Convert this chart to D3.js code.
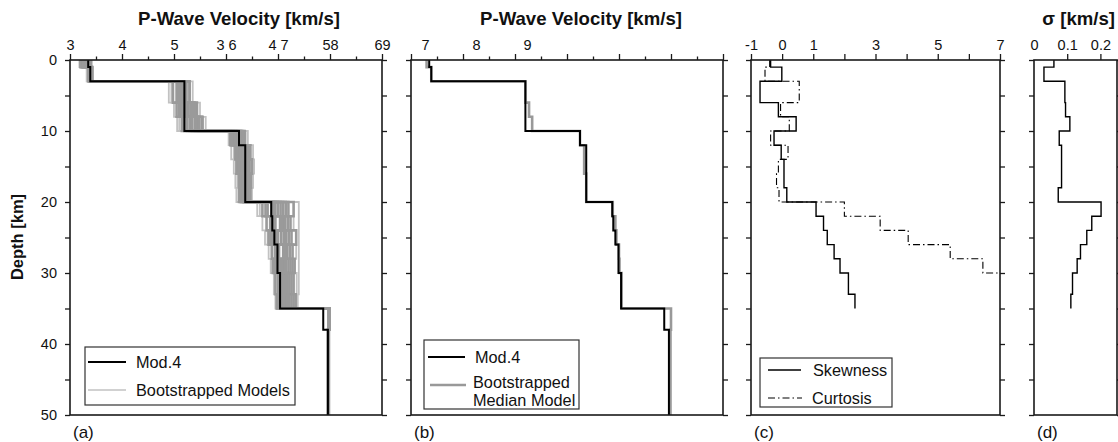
<!DOCTYPE html>
<html><head><meta charset="utf-8">
<script src="https://cdn.jsdelivr.net/npm/d3@7"></script>
<style>
body{margin:0;background:#fff;}
svg{display:block;font-family:"Liberation Sans",Arial,Helvetica,sans-serif;}
</style></head><body>
<svg id="chart" width="1118" height="442"></svg>
<script>
// ---------- DATA ----------
// layer tops/bottoms (km); value i holds for depthBounds[i]..depthBounds[i+1]
const depthBounds = [0,1,3,6,8,10,12,14,16,18,20,22,24,26,28,30,33,35,38,50];
const depthTicks = [0,5,10,15,20,25,30,35,40,45,50];
const depthLabels = [0,10,20,30,40,50];

const velMajorTicks = [3,4,5,6,7,8,9];
const velMinorTicks = [3.5,4.5,5.5,6.5,7.5,8.5];
const velTickLabelsA = ["3","4","5","3 6","4 7","58","69"];
const velTickLabelsB = ["7","8","9"];
const velTickLabelsBAt = [3.27,4.25,5.23];

const statTicks = [-1,0,1,2,3,4,5,6,7];
const statTickLabels = ["-1","0","1","","3","","5","","7"];
const sigmaTicks = [0.1,0.2];
const sigmaLabelValues = [0,0.1,0.2];
const sigmaTickLabels = ["0","0.1","0.2"];

const mod4         = [3.35,3.39,5.20,5.20,5.20,6.25,6.37,6.37,6.37,6.37,6.87,6.89,6.93,6.99,6.99,7.04,7.04,7.87,7.96];
const medianModel  = [3.30,3.39,5.20,5.27,5.33,6.25,6.33,6.33,6.37,6.37,6.88,6.93,6.95,7.00,7.01,7.05,7.05,8.00,7.99];

const boot1  = [3.18,3.33,4.90,5.00,5.06,6.05,6.10,6.15,6.18,6.20,6.60,6.70,6.75,6.82,6.86,6.92,6.95,7.97,7.96];
const boot2  = [3.22,3.36,4.98,5.10,5.15,6.10,6.18,6.22,6.25,6.25,6.70,6.78,6.82,6.88,6.90,6.95,6.98,7.98,7.97];
const boot3  = [3.26,3.38,5.05,5.18,5.25,6.15,6.24,6.28,6.30,6.30,6.80,6.85,6.90,6.94,6.96,7.00,7.02,7.99,7.97];
const boot4  = [3.30,3.40,5.12,5.25,5.33,6.20,6.30,6.34,6.35,6.35,6.92,6.95,6.98,7.02,7.04,7.06,7.08,7.98,7.96];
const boot5  = [3.34,3.41,5.18,5.32,5.40,6.25,6.36,6.40,6.40,6.40,7.00,7.04,7.06,7.10,7.12,7.14,7.15,7.99,7.97];
const boot6  = [3.38,3.42,5.24,5.38,5.46,6.30,6.42,6.45,6.44,6.43,7.10,7.14,7.16,7.18,7.20,7.22,7.22,7.98,7.97];
const boot7  = [3.40,3.43,5.30,5.44,5.53,6.36,6.47,6.50,6.48,6.47,7.20,7.24,7.26,7.28,7.28,7.30,7.30,7.99,7.98];
const boot8  = [3.42,3.44,5.36,5.50,5.61,6.42,6.52,6.54,6.52,6.50,7.40,7.40,7.40,7.40,7.40,7.40,7.38,8.00,7.98];
const boot9  = [3.20,3.35,5.30,5.05,5.55,6.08,6.45,6.20,6.42,6.28,7.30,6.90,7.35,6.98,7.32,7.10,7.34,7.98,7.96];
const boot10 = [3.28,3.32,4.95,5.45,5.10,6.38,6.15,6.48,6.22,6.45,6.65,7.30,6.80,7.35,6.95,7.36,7.00,7.97,7.97];
const boot11 = [3.36,3.39,5.20,5.22,5.35,6.22,6.33,6.36,6.36,6.37,6.88,6.92,6.95,7.00,7.00,7.05,7.05,7.98,7.97];
const boot12 = [3.24,3.37,5.08,5.35,5.20,6.12,6.38,6.25,6.46,6.33,6.95,7.10,7.00,7.15,7.08,7.18,7.12,7.99,7.97];
const boot13 = [3.32,3.40,5.15,5.28,5.42,6.18,6.27,6.31,6.33,6.34,6.76,6.88,6.86,6.96,6.93,7.02,6.98,7.98,7.97];
const boot14 = [3.37,3.41,5.10,5.40,5.30,6.28,6.40,6.42,6.38,6.41,7.05,7.08,7.11,7.14,7.15,7.18,7.19,7.99,7.97];
const boot15 = [3.25,3.37,5.22,5.14,5.48,6.33,6.21,6.38,6.28,6.39,7.15,7.19,7.21,7.23,7.24,7.26,7.26,7.98,7.97];
const bootLight = [boot1, boot8, boot10];
const bootDark  = [boot2, boot3, boot4, boot5, boot6, boot7, boot9, boot11, boot12, boot13, boot14, boot15];

const skewness = [-0.37,-0.01,-0.71,-0.12,0.45,-0.26,-0.03,0.06,0.06,0.15,1.09,1.33,1.45,1.67,1.86,2.13,2.34,null,null];
const curtosis = [-0.40,-0.55,0.55,-0.05,0.23,-0.37,0.19,-0.12,-0.18,-0.10,2.00,3.15,4.05,5.40,6.45,8.00,8.00,null,null];
const sigma    = [0.060,0.030,0.093,0.095,0.108,0.076,0.083,0.083,0.083,0.073,0.202,0.174,0.159,0.140,0.130,0.116,0.111,null,null];

// ---------- SETUP ----------
const svg = d3.select("#chart");
const y = d3.scaleLinear().domain([0,50]).range([60,415]);
const xA = d3.scaleLinear().domain([3,9]).range([70,382]);
const xB = d3.scaleLinear().domain([3,9]).range([411,723]);
const xC = d3.scaleLinear().domain([-1,7]).range([751,1000]);
const xD = d3.scaleLinear().domain([0,0.25]).range([1034,1117]);
const INK = "#1a1a1a";

function profile(vals){
  const pts = []; let last = -1;
  vals.forEach((v,i)=>{ if(v!=null){ pts.push([v,depthBounds[i]]); last=i; } });
  pts.push([vals[last], depthBounds[last+1]]);
  return pts;
}
function lineFor(x){
  return d3.line().x(d=>x(d[0])).y(d=>y(d[1])).curve(d3.curveStepBefore);
}
function styleAxis(g){
  g.select(".domain").remove();
  g.selectAll(".tick line").attr("stroke",INK).attr("stroke-width",1.3);
  g.selectAll(".tick text").attr("fill","#111").style("font-size","14.5px")
    .style("font-family",'"Liberation Sans",Arial,Helvetica,sans-serif');
}
function frame(x, showDepthLabels){
  const [x0,x1] = x.range();
  const g = svg.append("g");
  g.append("g").attr("transform",`translate(${x0},0)`)
    .call(d3.axisLeft(y).tickValues(depthTicks).tickSize(5).tickSizeOuter(0).tickPadding(8)
      .tickFormat(d=> showDepthLabels && depthLabels.includes(d) ? d : ""))
    .call(styleAxis);
  g.append("g").attr("transform",`translate(${x1},0)`)
    .call(d3.axisRight(y).tickValues(depthTicks).tickSize(5).tickSizeOuter(0).tickFormat(""))
    .call(styleAxis);
  return g;
}
function box(x){
  const [x0,x1] = x.range();
  svg.append("rect").attr("x",x0).attr("y",y(0)).attr("width",x1-x0).attr("height",y(50)-y(0))
    .attr("fill","none").attr("stroke",INK).attr("stroke-width",1.6);
}
function clipFor(id, x){
  const [x0,x1] = x.range();
  svg.append("clipPath").attr("id",id).append("rect")
    .attr("x",x0).attr("y",y(0)).attr("width",x1-x0).attr("height",y(50)-y(0));
}

// ---------- PANEL A ----------
frame(xA, true);
svg.append("g").attr("transform",`translate(0,${y(0)})`)
  .call(d3.axisTop(xA).tickValues(velMajorTicks).tickSize(6).tickSizeOuter(0).tickPadding(4)
    .tickFormat((d,i)=>velTickLabelsA[i])).call(styleAxis);
svg.append("g").attr("transform",`translate(0,${y(0)})`)
  .call(d3.axisTop(xA).tickValues(velMinorTicks).tickSize(3.5).tickSizeOuter(0).tickFormat("")).call(styleAxis);
clipFor("clipA", xA);
const gA = svg.append("g").attr("clip-path","url(#clipA)");
bootLight.forEach(m=>gA.append("path").attr("d",lineFor(xA)(profile(m))).attr("fill","none")
  .attr("stroke","#c2c2c2").attr("stroke-width",1.8));
bootDark.forEach(m=>gA.append("path").attr("d",lineFor(xA)(profile(m))).attr("fill","none")
  .attr("stroke","#9a9a9a").attr("stroke-width",2.6));
gA.append("path").attr("d",lineFor(xA)(profile(mod4))).attr("fill","none")
  .attr("stroke","#000").attr("stroke-width",2);
box(xA);

// ---------- PANEL B ----------
frame(xB, false);
svg.append("g").attr("transform",`translate(0,${y(0)})`)
  .call(d3.axisTop(xB).tickValues(velMajorTicks).tickSize(6).tickSizeOuter(0).tickFormat("")).call(styleAxis);
svg.append("g").attr("transform",`translate(0,${y(0)})`)
  .call(d3.axisTop(xB).tickValues(velMinorTicks).tickSize(3.5).tickSizeOuter(0).tickFormat("")).call(styleAxis);
svg.append("g").attr("transform",`translate(0,${y(0)})`)
  .call(d3.axisTop(xB).tickValues(velTickLabelsBAt).tickSize(0).tickSizeOuter(0).tickPadding(10)
    .tickFormat((d,i)=>velTickLabelsB[i])).call(styleAxis);
clipFor("clipB", xB);
const gB = svg.append("g").attr("clip-path","url(#clipB)");
gB.append("path").attr("d",lineFor(xB)(profile(medianModel))).attr("fill","none")
  .attr("stroke","#999").attr("stroke-width",2.6);
gB.append("path").attr("d",lineFor(xB)(profile(mod4))).attr("fill","none")
  .attr("stroke","#000").attr("stroke-width",2);
box(xB);

// ---------- PANEL C ----------
frame(xC, false);
svg.append("g").attr("transform",`translate(0,${y(0)})`)
  .call(d3.axisTop(xC).tickValues(statTicks).tickSize(6).tickSizeOuter(0).tickPadding(4)
    .tickFormat((d,i)=>statTickLabels[i])).call(styleAxis);
clipFor("clipC", xC);
const gC = svg.append("g").attr("clip-path","url(#clipC)");
gC.append("path").attr("d",lineFor(xC)(profile(curtosis))).attr("fill","none")
  .attr("stroke","#000").attr("stroke-width",1.1).attr("stroke-dasharray","7,3,1.5,3");
gC.append("path").attr("d",lineFor(xC)(profile(skewness))).attr("fill","none")
  .attr("stroke","#000").attr("stroke-width",1.4);
box(xC);

// ---------- PANEL D ----------
frame(xD, false);
svg.append("g").attr("transform",`translate(0,${y(0)})`)
  .call(d3.axisTop(xD).tickValues(sigmaTicks).tickSize(6).tickSizeOuter(0).tickFormat("")).call(styleAxis);
svg.append("g").attr("transform",`translate(0,${y(0)})`)
  .call(d3.axisTop(xD).tickValues(sigmaLabelValues).tickSize(0).tickSizeOuter(0).tickPadding(10)
    .tickFormat((d,i)=>sigmaTickLabels[i])).call(styleAxis);
clipFor("clipD", xD);
svg.append("g").attr("clip-path","url(#clipD)").append("path")
  .attr("d",lineFor(xD)(profile(sigma))).attr("fill","none").attr("stroke","#000").attr("stroke-width",1.4);
box(xD);

// ---------- TITLES ----------
const title = (txt,x,anchor)=>svg.append("text").attr("x",x).attr("y",25).attr("text-anchor",anchor)
  .style("font-weight","bold").style("font-size","18.6px").attr("fill","#111").text(txt);
title("P-Wave Velocity [km/s]", 239, "middle");
title("P-Wave Velocity [km/s]", 581, "middle");
title("σ [km/s]", 1115, "end");
svg.append("text").attr("transform","translate(23,237) rotate(-90)").attr("text-anchor","middle")
  .style("font-weight","bold").style("font-size","16.5px").attr("fill","#111").text("Depth [km]");
[["(a)",xA],["(b)",xB],["(c)",xC],["(d)",xD]].forEach(([t,x])=>{
  svg.append("text").attr("x",x.range()[0]+3).attr("y",438).style("font-size","17px").attr("fill","#111").text(t);
});

// ---------- LEGENDS ----------
function legend(x0,y0,w,h){
  svg.append("rect").attr("x",x0).attr("y",y0).attr("width",w).attr("height",h)
    .attr("fill","#fff").attr("stroke","#333").attr("stroke-width",1.2);
}
function legText(x,yy,t){
  svg.append("text").attr("x",x).attr("y",yy).attr("dy","0.35em").style("font-size","16.3px").attr("fill","#111").text(t);
}
// (a)
legend(85,347,210,58);
svg.append("line").attr("x1",88).attr("x2",126).attr("y1",362).attr("y2",362).attr("stroke","#000").attr("stroke-width",2);
svg.append("line").attr("x1",88).attr("x2",126).attr("y1",390).attr("y2",390).attr("stroke","#c2c2c2").attr("stroke-width",1.6);
legText(136,362,"Mod.4");
legText(136,390,"Bootstrapped Models");
// (b)
legend(424,340,155,69);
svg.append("line").attr("x1",428).attr("x2",465).attr("y1",357).attr("y2",357).attr("stroke","#000").attr("stroke-width",2);
svg.append("line").attr("x1",430).attr("x2",466).attr("y1",385).attr("y2",385).attr("stroke","#999").attr("stroke-width",2.6);
legText(475,357,"Mod.4");
legText(473,382,"Bootstrapped");
legText(473,400,"Median Model");
// (c)
legend(760,358,132,49);
svg.append("line").attr("x1",768).attr("x2",801).attr("y1",370).attr("y2",370).attr("stroke","#000").attr("stroke-width",1.4);
svg.append("line").attr("x1",768).attr("x2",802).attr("y1",398).attr("y2",398).attr("stroke","#000").attr("stroke-width",1.1).attr("stroke-dasharray","7,3,1.5,3");
legText(813,370,"Skewness");
legText(812,398,"Curtosis");
</script>
</body></html>
